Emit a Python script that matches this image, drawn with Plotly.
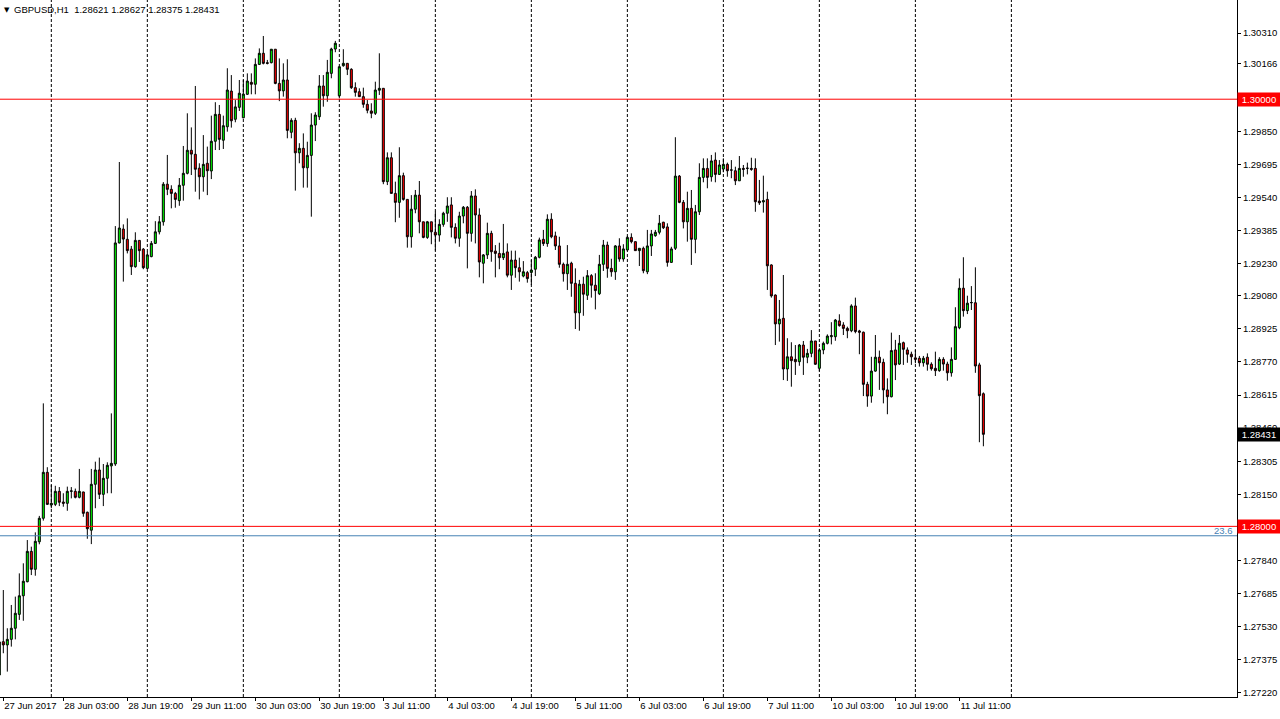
import datetime as dt
import plotly.graph_objects as go

SYMBOL = "GBPUSD,H1"
FIRST_BAR = "2017-06-27 11:00"

OPEN = [1.27304, 1.27460, 1.27445, 1.27471, 1.27523, 1.27588, 1.27675, 1.27741, 1.27883, 1.27799,
        1.27928, 1.28038, 1.28253, 1.28100, 1.28103, 1.28164, 1.28114, 1.28108, 1.28164, 1.28164,
        1.28136, 1.28161, 1.28066, 1.27982, 1.28197, 1.28264, 1.28150, 1.28225, 1.28283, 1.28292,
        1.29327, 1.29392, 1.29344, 1.29298, 1.29216, 1.29339, 1.29298, 1.29208, 1.29263, 1.29325,
        1.29379, 1.29426, 1.29602, 1.29578, 1.29559, 1.29525, 1.29597, 1.29653, 1.29761, 1.29742,
        1.29677, 1.29637, 1.29700, 1.29664, 1.29803, 1.29929, 1.29808, 1.29871, 1.30038, 1.29906,
        1.29962, 1.29913, 1.30023, 1.30079, 1.30070, 1.30163, 1.30215, 1.30171, 1.30171, 1.30234,
        1.30074, 1.30039, 1.30090, 1.29845, 1.29901, 1.29749, 1.29770, 1.29679, 1.29737, 1.29879,
        1.29918, 1.30062, 1.30016, 1.30121, 1.30235, 1.30016, 1.30157, 1.30168, 1.30140, 1.30054,
        1.30035, 1.30012, 1.29976, 1.29945, 1.29934, 1.30042, 1.30051, 1.29614, 1.29726, 1.29559,
        1.29517, 1.29642, 1.29531, 1.29356, 1.29485, 1.29551, 1.29426, 1.29353, 1.29426, 1.29377,
        1.29364, 1.29414, 1.29466, 1.29505, 1.29400, 1.29349, 1.29453, 1.29494, 1.29372, 1.29547,
        1.29458, 1.29232, 1.29271, 1.29372, 1.29289, 1.29278, 1.29258, 1.29285, 1.29176, 1.29247,
        1.29211, 1.29172, 1.29188, 1.29189, 1.29204, 1.29260, 1.29344, 1.29324, 1.29438, 1.29360,
        1.29313, 1.29227, 1.29183, 1.29232, 1.29138, 1.29000, 1.29134, 1.29082, 1.29174, 1.29129,
        1.29089, 1.29227, 1.29317, 1.29208, 1.29192, 1.29313, 1.29252, 1.29294, 1.29353, 1.29333,
        1.29291, 1.29302, 1.29192, 1.29313, 1.29361, 1.29377, 1.29424, 1.29402, 1.29236, 1.29302,
        1.29640, 1.29517, 1.29426, 1.29489, 1.29344, 1.29473, 1.29634, 1.29676, 1.29637, 1.29715,
        1.29648, 1.29673, 1.29695, 1.29669, 1.29665, 1.29618, 1.29676, 1.29676, 1.29676, 1.29676,
        1.29523, 1.29519, 1.29531, 1.29224, 1.29083, 1.28948, 1.28974, 1.28737, 1.28794, 1.28782,
        1.28771, 1.28849, 1.28792, 1.28810, 1.28868, 1.28740, 1.28826, 1.28857, 1.28888, 1.28888,
        1.28962, 1.28943, 1.28927, 1.28916, 1.29032, 1.28915, 1.28909, 1.28665, 1.28610, 1.28727,
        1.28792, 1.28768, 1.28639, 1.28607, 1.28826, 1.28760, 1.28860, 1.28826, 1.28806, 1.28789,
        1.28787, 1.28766, 1.28792, 1.28759, 1.28740, 1.28729, 1.28782, 1.28760, 1.28719, 1.28782,
        1.28930, 1.29115, 1.29010, 1.29047, 1.29047, 1.28756, 1.28621]

HIGH = [1.27460, 1.27702, 1.27523, 1.27632, 1.27671, 1.27780, 1.27827, 1.27936, 1.27905, 1.27972,
        1.28049, 1.28576, 1.28277, 1.28194, 1.28190, 1.28184, 1.28155, 1.28186, 1.28184, 1.28177,
        1.28269, 1.28162, 1.28069, 1.28269, 1.28303, 1.28322, 1.28292, 1.28300, 1.28529, 1.29406,
        1.29706, 1.29414, 1.29442, 1.29313, 1.29377, 1.29339, 1.29303, 1.29286, 1.29336, 1.29429,
        1.29453, 1.29612, 1.29739, 1.29597, 1.29566, 1.29631, 1.29781, 1.29934, 1.29868, 1.30062,
        1.29700, 1.29832, 1.29778, 1.29923, 1.29986, 1.29973, 1.29923, 1.30145, 1.30113, 1.29996,
        1.30090, 1.30090, 1.30121, 1.30121, 1.30191, 1.30238, 1.30296, 1.30184, 1.30234, 1.30234,
        1.30191, 1.30168, 1.30187, 1.29911, 1.29913, 1.29794, 1.29840, 1.29801, 1.29934, 1.29939,
        1.30113, 1.30113, 1.30184, 1.30241, 1.30273, 1.30152, 1.30234, 1.30168, 1.30145, 1.30079,
        1.30051, 1.30054, 1.29996, 1.29981, 1.30082, 1.30215, 1.30051, 1.29751, 1.29751, 1.29614,
        1.29775, 1.29656, 1.29531, 1.29551, 1.29575, 1.29617, 1.29426, 1.29430, 1.29426, 1.29473,
        1.29438, 1.29473, 1.29541, 1.29541, 1.29419, 1.29473, 1.29500, 1.29500, 1.29570, 1.29578,
        1.29489, 1.29275, 1.29422, 1.29384, 1.29317, 1.29328, 1.29416, 1.29325, 1.29291, 1.29291,
        1.29258, 1.29242, 1.29196, 1.29247, 1.29266, 1.29352, 1.29388, 1.29461, 1.29466, 1.29380,
        1.29356, 1.29235, 1.29317, 1.29239, 1.29208, 1.29154, 1.29169, 1.29200, 1.29181, 1.29185,
        1.29271, 1.29341, 1.29333, 1.29253, 1.29317, 1.29349, 1.29321, 1.29360, 1.29372, 1.29333,
        1.29302, 1.29310, 1.29388, 1.29388, 1.29388, 1.29458, 1.29426, 1.29419, 1.29309, 1.29822,
        1.29645, 1.29528, 1.29567, 1.29575, 1.29505, 1.29700, 1.29723, 1.29723, 1.29739, 1.29751,
        1.29715, 1.29723, 1.29703, 1.29715, 1.29684, 1.29734, 1.29692, 1.29703, 1.29726, 1.29723,
        1.29622, 1.29642, 1.29567, 1.29227, 1.29086, 1.29060, 1.29177, 1.28881, 1.28862, 1.28849,
        1.28854, 1.28868, 1.28831, 1.28919, 1.28868, 1.28834, 1.28865, 1.28899, 1.28956, 1.28971,
        1.28993, 1.28956, 1.28935, 1.29040, 1.29071, 1.28920, 1.28912, 1.28677, 1.28794, 1.28896,
        1.28823, 1.28785, 1.28693, 1.28907, 1.28873, 1.28896, 1.28865, 1.28838, 1.28818, 1.28826,
        1.28798, 1.28798, 1.28810, 1.28768, 1.28818, 1.28792, 1.28792, 1.28771, 1.28838, 1.29026,
        1.29161, 1.29260, 1.29080, 1.29125, 1.29213, 1.28766, 1.28627]

LOW = [1.27300, 1.27406, 1.27320, 1.27437, 1.27471, 1.27562, 1.27558, 1.27738, 1.27772, 1.27769,
       1.27916, 1.28027, 1.28100, 1.28085, 1.28095, 1.28095, 1.28092, 1.28073, 1.28131, 1.28131,
       1.28131, 1.28045, 1.27942, 1.27917, 1.28085, 1.28128, 1.28095, 1.28155, 1.28155, 1.28283,
       1.29325, 1.29146, 1.29278, 1.29177, 1.29211, 1.29238, 1.29204, 1.29205, 1.29260, 1.29322,
       1.29367, 1.29408, 1.29551, 1.29489, 1.29492, 1.29501, 1.29525, 1.29648, 1.29645, 1.29567,
       1.29531, 1.29567, 1.29551, 1.29626, 1.29762, 1.29762, 1.29767, 1.29848, 1.29867, 1.29892,
       1.29945, 1.29911, 1.30020, 1.30023, 1.30023, 1.30160, 1.30163, 1.30163, 1.30168, 1.30070,
       1.29991, 1.30012, 1.29817, 1.29817, 1.29572, 1.29700, 1.29586, 1.29586, 1.29450, 1.29804,
       1.29903, 1.29965, 1.29988, 1.30098, 1.30220, 1.30004, 1.30152, 1.30113, 1.30048, 1.30012,
       1.30012, 1.29960, 1.29934, 1.29911, 1.29926, 1.30020, 1.29602, 1.29598, 1.29559, 1.29424,
       1.29445, 1.29525, 1.29305, 1.29305, 1.29466, 1.29372, 1.29349, 1.29346, 1.29321, 1.29291,
       1.29333, 1.29403, 1.29426, 1.29353, 1.29325, 1.29309, 1.29419, 1.29208, 1.29333, 1.29325,
       1.29166, 1.29138, 1.29252, 1.29239, 1.29166, 1.29204, 1.29247, 1.29166, 1.29107, 1.29164,
       1.29146, 1.29166, 1.29141, 1.29130, 1.29172, 1.29255, 1.29313, 1.29309, 1.29349, 1.29294,
       1.29211, 1.29146, 1.29107, 1.29075, 1.28924, 1.28916, 1.28986, 1.29060, 1.29071, 1.29016,
       1.29083, 1.29196, 1.29164, 1.29169, 1.29154, 1.29239, 1.29239, 1.29294, 1.29325, 1.29291,
       1.29219, 1.29185, 1.29181, 1.29266, 1.29356, 1.29367, 1.29392, 1.29216, 1.29234, 1.29294,
       1.29513, 1.29395, 1.29333, 1.29224, 1.29279, 1.29458, 1.29611, 1.29583, 1.29614, 1.29611,
       1.29645, 1.29658, 1.29637, 1.29630, 1.29598, 1.29617, 1.29637, 1.29648, 1.29665, 1.29473,
       1.29505, 1.29469, 1.29107, 1.29071, 1.28849, 1.28865, 1.28685, 1.28681, 1.28654, 1.28709,
       1.28752, 1.28709, 1.28764, 1.28792, 1.28756, 1.28727, 1.28806, 1.28852, 1.28852, 1.28869,
       1.28935, 1.28896, 1.28881, 1.28909, 1.28904, 1.28806, 1.28610, 1.28560, 1.28579, 1.28724,
       1.28639, 1.28576, 1.28525, 1.28604, 1.28685, 1.28756, 1.28756, 1.28766, 1.28756, 1.28764,
       1.28748, 1.28748, 1.28729, 1.28729, 1.28704, 1.28724, 1.28729, 1.28682, 1.28701, 1.28779,
       1.28923, 1.28982, 1.28994, 1.29013, 1.28719, 1.28394, 1.28375]

CLOSE = [1.27459, 1.27445, 1.27471, 1.27523, 1.27593, 1.27675, 1.27743, 1.27883, 1.27799, 1.27930,
         1.28038, 1.28253, 1.28103, 1.28108, 1.28164, 1.28113, 1.28108, 1.28164, 1.28166, 1.28136,
         1.28164, 1.28061, 1.27989, 1.28197, 1.28264, 1.28150, 1.28225, 1.28286, 1.28295, 1.29327,
         1.29397, 1.29345, 1.29291, 1.29216, 1.29339, 1.29291, 1.29211, 1.29271, 1.29325, 1.29379,
         1.29426, 1.29602, 1.29578, 1.29559, 1.29531, 1.29597, 1.29653, 1.29761, 1.29743, 1.29672,
         1.29637, 1.29695, 1.29665, 1.29803, 1.29929, 1.29812, 1.29876, 1.30043, 1.29899, 1.29964,
         1.30028, 1.30024, 1.30085, 1.30070, 1.30163, 1.30215, 1.30168, 1.30168, 1.30234, 1.30074,
         1.30039, 1.30090, 1.29854, 1.29901, 1.29749, 1.29770, 1.29679, 1.29737, 1.29879, 1.29926,
         1.30062, 1.30016, 1.30126, 1.30235, 1.30262, 1.30152, 1.30168, 1.30140, 1.30054, 1.30032,
         1.30012, 1.29976, 1.29948, 1.29934, 1.30043, 1.30051, 1.29614, 1.29726, 1.29559, 1.29517,
         1.29642, 1.29531, 1.29356, 1.29485, 1.29551, 1.29426, 1.29353, 1.29426, 1.29379, 1.29364,
         1.29414, 1.29466, 1.29500, 1.29400, 1.29349, 1.29453, 1.29494, 1.29372, 1.29547, 1.29458,
         1.29238, 1.29271, 1.29372, 1.29286, 1.29278, 1.29258, 1.29278, 1.29176, 1.29247, 1.29211,
         1.29192, 1.29192, 1.29160, 1.29200, 1.29260, 1.29341, 1.29324, 1.29438, 1.29356, 1.29313,
         1.29227, 1.29183, 1.29227, 1.29138, 1.29000, 1.29134, 1.29087, 1.29174, 1.29129, 1.29104,
         1.29227, 1.29317, 1.29208, 1.29192, 1.29313, 1.29252, 1.29299, 1.29353, 1.29333, 1.29291,
         1.29302, 1.29197, 1.29313, 1.29369, 1.29377, 1.29419, 1.29398, 1.29236, 1.29299, 1.29640,
         1.29517, 1.29426, 1.29489, 1.29344, 1.29473, 1.29634, 1.29676, 1.29634, 1.29711, 1.29648,
         1.29692, 1.29695, 1.29665, 1.29668, 1.29618, 1.29676, 1.29672, 1.29677, 1.29672, 1.29520,
         1.29515, 1.29525, 1.29220, 1.29079, 1.28948, 1.28970, 1.28737, 1.28794, 1.28776, 1.28771,
         1.28849, 1.28792, 1.28810, 1.28868, 1.28759, 1.28826, 1.28857, 1.28891, 1.28893, 1.28966,
         1.28940, 1.28927, 1.28916, 1.29032, 1.28912, 1.28909, 1.28665, 1.28610, 1.28727, 1.28792,
         1.28766, 1.28639, 1.28607, 1.28823, 1.28756, 1.28857, 1.28829, 1.28806, 1.28794, 1.28782,
         1.28766, 1.28787, 1.28759, 1.28738, 1.28729, 1.28782, 1.28760, 1.28719, 1.28782, 1.28935,
         1.29115, 1.29010, 1.29045, 1.29048, 1.28751, 1.28612, 1.28431]

RED_LEVELS = [1.30000, 1.28000]
FIB_LEVEL = 1.27956
FIB_LABEL = "23.6"
Y_TICKS = [1.30310, 1.30166, 1.29850, 1.29695, 1.29540, 1.29385, 1.29230, 1.29080,
           1.28925, 1.28770, 1.28615, 1.28460, 1.28305, 1.28150, 1.27840, 1.27685,
           1.27530, 1.27375, 1.27220]
Y_RANGE = [1.272011, 1.304645]
VISIBLE_BARS = [0.17, 309.4]
LABEL_EVERY = 16
SEPARATOR_LOOKAHEAD = 24

FONT = "Liberation Sans, Arial, sans-serif"

# hourly trading timestamps (weekends skipped), covering the visible window
times = []
t = dt.datetime.strptime(FIRST_BAR, "%Y-%m-%d %H:%M")
while len(times) < int(VISIBLE_BARS[1]) + 2:
    if t.weekday() < 5:
        times.append(t)
    t += dt.timedelta(hours=1)

n = len(OPEN)
xs = list(range(n))

fig = go.Figure()
fig.add_trace(go.Candlestick(
    x=xs, open=OPEN, high=HIGH, low=LOW, close=CLOSE,
    increasing=dict(fillcolor="#00FF00", line=dict(color="black", width=1)),
    decreasing=dict(fillcolor="#FF0000", line=dict(color="black", width=1)),
    whiskerwidth=0, hoverinfo="skip", showlegend=False,
))

# bottom time labels
tickvals = [1]
ticktext = ["%d %s %d" % (times[1].day, times[1].strftime("%b"), times[1].year)]
for i in range(LABEL_EVERY, n, LABEL_EVERY):
    tickvals.append(i)
    ticktext.append("%d %s %s" % (times[i].day, times[i].strftime("%b"), times[i].strftime("%H:%M")))

shapes = []
# day separators (drawn up to one day past the last bar)
for i, tt in enumerate(times):
    if tt.hour == 0 and VISIBLE_BARS[0] < i <= n - 1 + SEPARATOR_LOOKAHEAD:
        shapes.append(dict(type="line", xref="x", yref="paper", x0=i, x1=i, y0=0, y1=1,
                           line=dict(color="black", width=1, dash="3px,2px"), layer="below"))
for lv in RED_LEVELS:
    shapes.append(dict(type="line", xref="paper", yref="y", x0=0, x1=1, y0=lv, y1=lv,
                       line=dict(color="#FF0000", width=1), layer="above"))
shapes.append(dict(type="line", xref="paper", yref="y", x0=0, x1=1, y0=FIB_LEVEL, y1=FIB_LEVEL,
                   line=dict(color="#4682B4", width=1), layer="above"))

annotations = []
annotations.append(dict(xref="paper", yref="paper", x=0, y=1, xanchor="left", yanchor="top",
                        xshift=2, yshift=-4, text="\u25BC", showarrow=False,
                        font=dict(family="DejaVu Sans", size=7, color="black")))
annotations.append(dict(xref="paper", yref="paper", x=0, y=1, xanchor="left", yanchor="top",
                        xshift=12, yshift=-2,
                        text="%s  %.5f %.5f %.5f %.5f" % (SYMBOL, OPEN[-1], HIGH[-1], LOW[-1], CLOSE[-1]),
                        showarrow=False, font=dict(family=FONT, size=9.5, color="black")))
for lv in RED_LEVELS:
    annotations.append(dict(xref="paper", yref="y", x=1, y=lv, xanchor="left", yanchor="middle",
                            xshift=0, text="%.5f" % lv, showarrow=False, bgcolor="#FF0000",
                            width=40, align="center", borderpad=1,
                            font=dict(family=FONT, size=9.5, color="white")))
annotations.append(dict(xref="paper", yref="y", x=1, y=CLOSE[-1], xanchor="left", yanchor="middle",
                        xshift=0, text="%.5f" % CLOSE[-1], showarrow=False, bgcolor="black",
                        width=40, align="center", borderpad=1,
                        font=dict(family=FONT, size=9.5, color="white")))
annotations.append(dict(xref="paper", yref="y", x=1, y=FIB_LEVEL, xanchor="right", yanchor="bottom",
                        xshift=-2, yshift=-2, text=FIB_LABEL, showarrow=False,
                        font=dict(family=FONT, size=9.5, color="#4682B4")))

fig.update_layout(
    width=1280, height=719,
    margin=dict(l=0, r=43, t=0, b=22, autoexpand=False),
    paper_bgcolor="white", plot_bgcolor="white",
    boxgap=0.5, boxgroupgap=0,
    showlegend=False, hovermode=False,
    shapes=shapes, annotations=annotations,
    font=dict(family=FONT, size=9.5, color="black"),
    xaxis=dict(range=VISIBLE_BARS, showgrid=False, zeroline=False, rangeslider=dict(visible=False),
               showline=True, linecolor="black", linewidth=1, automargin=False,
               ticks="outside", ticklen=3, tickcolor="black", tickangle=0,
               tickvals=tickvals, ticktext=ticktext, ticklabelposition="outside right",
               tickfont=dict(family=FONT, size=9.5, color="black")),
    yaxis=dict(range=Y_RANGE, side="right", showgrid=False, zeroline=False,
               showline=True, linecolor="black", linewidth=1, automargin=False,
               ticks="outside", ticklen=3, tickcolor="black",
               tickvals=Y_TICKS, ticktext=["%.5f" % v for v in Y_TICKS],
               tickfont=dict(family=FONT, size=9.5, color="black")),
)

fig.write_html("out.html", config={"displayModeBar": False},
               post_script="document.body.style.margin='0';document.body.style.overflow='hidden';")
